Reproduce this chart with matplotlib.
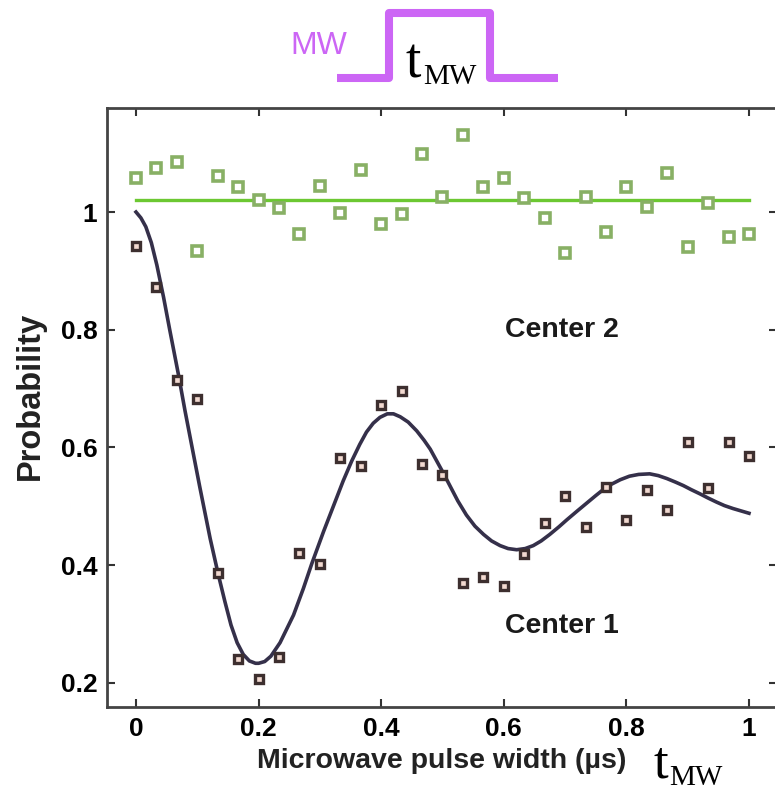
import matplotlib

matplotlib.use("Agg")
import matplotlib.pyplot as plt

plt.rcParams["font.family"] = ["Liberation Sans", "DejaVu Sans"]

# pulse width in microseconds, 31 points
width_us = [i / 30 for i in range(31)]

center1 = [0.942, 0.873, 0.714, 0.682, 0.386, 0.241, 0.207, 0.244, 0.421, 0.402,
           0.582, 0.569, 0.672, 0.695, 0.572, 0.553, 0.369, 0.379, 0.365, 0.418,
           0.471, 0.517, 0.464, 0.532, 0.477, 0.527, 0.493, 0.609, 0.531, 0.609,
           0.585]

center2 = [1.058, 1.074, 1.085, 0.934, 1.062, 1.042, 1.020, 1.006, 0.963, 1.045,
           0.999, 1.072, 0.980, 0.996, 1.098, 1.026, 1.131, 1.042, 1.058, 1.023,
           0.990, 0.930, 1.026, 0.966, 1.042, 1.009, 1.066, 0.940, 1.015, 0.957,
           0.963]

# fitted curve for center 1
fit_x = [0.0, 0.008, 0.016, 0.025, 0.034, 0.045, 0.055, 0.069, 0.080, 0.093,
         0.104, 0.121, 0.134, 0.145, 0.155, 0.165, 0.175, 0.185, 0.195, 0.200,
         0.210, 0.220, 0.235, 0.257, 0.273, 0.287, 0.306, 0.322, 0.338, 0.352,
         0.365, 0.376, 0.387, 0.398, 0.410, 0.420, 0.431, 0.444, 0.458, 0.470,
         0.480, 0.490, 0.501, 0.512, 0.525, 0.539, 0.553, 0.567, 0.580, 0.594,
         0.607, 0.621, 0.635, 0.648, 0.661, 0.675, 0.690, 0.703, 0.720, 0.735,
         0.750, 0.762, 0.775, 0.790, 0.805, 0.820, 0.838, 0.852, 0.866, 0.880,
         0.893, 0.906, 0.920, 0.933, 0.947, 0.960, 0.974, 0.987, 1.0]
fit_y = [1.000, 0.990, 0.975, 0.948, 0.910, 0.855, 0.800, 0.725, 0.662, 0.592,
         0.533, 0.445, 0.385, 0.338, 0.298, 0.268, 0.248, 0.237, 0.233, 0.233,
         0.236, 0.245, 0.268, 0.315, 0.360, 0.403, 0.457, 0.500, 0.543, 0.577,
         0.605, 0.626, 0.641, 0.651, 0.657, 0.657, 0.652, 0.643, 0.628, 0.612,
         0.597, 0.578, 0.557, 0.535, 0.509, 0.485, 0.466, 0.452, 0.441, 0.433,
         0.428, 0.426, 0.428, 0.433, 0.441, 0.452, 0.465, 0.477, 0.492, 0.505,
         0.518, 0.528, 0.537, 0.545, 0.551, 0.554, 0.555, 0.552, 0.547, 0.541,
         0.535, 0.528, 0.521, 0.514, 0.507, 0.501, 0.496, 0.492, 0.488]

# flat fit for center 2
flat_x = [0.0, 1.0]
flat_y = [1.02, 1.02]

x_ticks = [0, 0.2, 0.4, 0.6, 0.8, 1]
x_tick_labels = ["0", "0.2", "0.4", "0.6", "0.8", "1"]
y_ticks = [0.2, 0.4, 0.6, 0.8, 1]
y_tick_labels = ["0.2", "0.4", "0.6", "0.8", "1"]

# microwave pulse sketch above the plot (pixel coords of the overlay)
pulse_x = [337, 389, 389, 490, 490, 558]
pulse_y = [78, 78, 13, 13, 78, 78]

W, H = 775, 790
fig = plt.figure(figsize=(W / 100, H / 100), dpi=100)
ax = fig.add_axes([107 / W, (H - 707) / H, (777 - 107) / W, (707 - 108) / H])

ax.plot(flat_x, flat_y, color="#6cc832", lw=2.4, zorder=2)
ax.plot(fit_x, fit_y, color="#35304a", lw=2.6, solid_joinstyle="round", zorder=2)
ax.plot(width_us, center2, ls="none", marker="s", ms=6.5, mfc="white",
        mec="#88b065", mew=2.6, zorder=3)
ax.plot(width_us, center1, ls="none", marker="s", ms=5.5, mfc="#f2d9d0",
        mec="#3d2f2f", mew=2.4, zorder=3)

ax.set_xlim(-0.0473, 1.0457)
ax.set_ylim(0.1587, 1.1768)
ax.set_xticks(x_ticks, x_tick_labels)
ax.set_yticks(y_ticks, y_tick_labels)
ax.tick_params(direction="in", top=True, right=True, length=6, width=1.5,
               color="#333333", labelsize=19, pad=7)
for lab in ax.get_xticklabels() + ax.get_yticklabels():
    lab.set_fontweight("bold")
for sp in ax.spines.values():
    sp.set_linewidth(2)
    sp.set_color("#444444")

ax.set_xlabel("Microwave pulse width (µs)", fontsize=20.5, fontweight="bold",
              color="#222222", labelpad=5)
ax.set_ylabel("Probability", fontsize=23.5, fontweight="bold", color="#222222")
ax.yaxis.set_label_coords(-0.091, 0.52)

ax.text(0.695, 0.8, "Center 2", fontsize=20.5, fontweight="bold",
        ha="center", va="center", color="#1a1a1a")
ax.text(0.695, 0.296, "Center 1", fontsize=20.5, fontweight="bold",
        ha="center", va="center", color="#1a1a1a")

# overlay for the pulse schematic and t_MW labels
ov = fig.add_axes([0, 0, 1, 1], zorder=5)
ov.set_xlim(0, W)
ov.set_ylim(H, 0)
ov.set_axis_off()
ov.patch.set_alpha(0)

ov.plot(pulse_x, pulse_y, color="#cc66f5", lw=5.8, solid_joinstyle="round",
        solid_capstyle="butt")
ov.text(319, 46, "MW", fontsize=23, color="#cc66f5", ha="center", va="center")

serif = ["Liberation Serif", "DejaVu Serif"]
ov.text(421, 78, "t", fontsize=40, family=serif, ha="right", va="baseline")
ov.text(423, 84, "MW", fontsize=21, family=serif, ha="left", va="baseline")
ov.text(668, 789, "t", fontsize=38, family=serif, ha="right", va="bottom")
ov.text(669, 785, "MW", fontsize=21, family=serif, ha="left", va="baseline")

fig.savefig("out.png", dpi=100)
